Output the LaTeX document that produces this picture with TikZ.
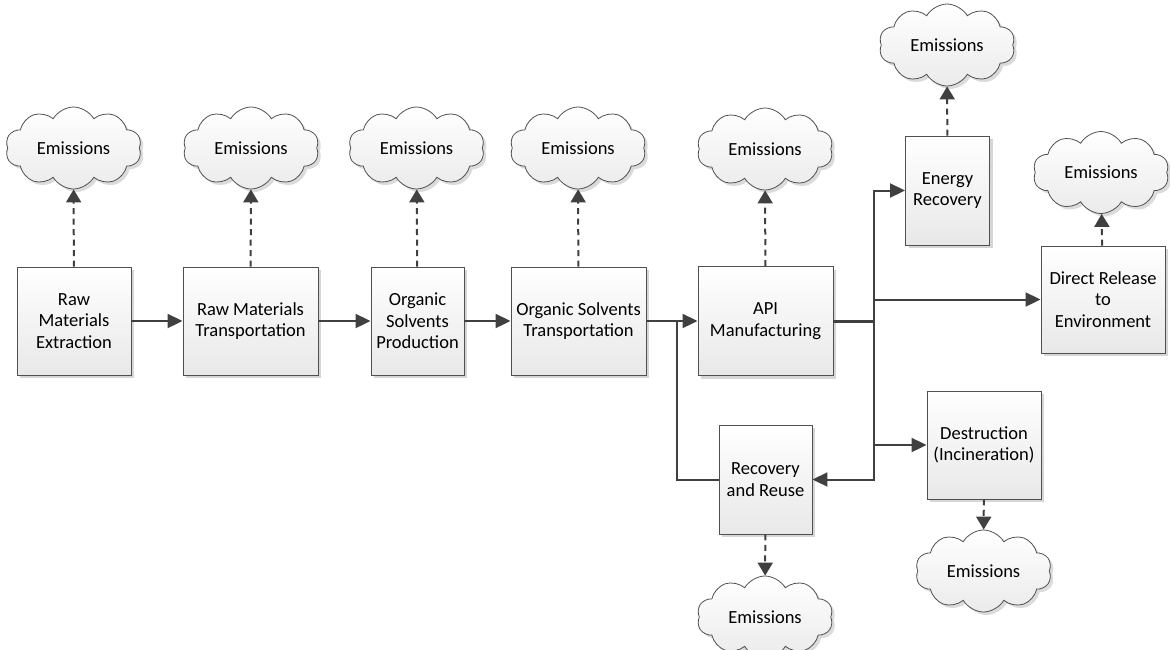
\documentclass[tikz,border=0pt]{standalone}
\usepackage{fontspec}
\setmainfont{Carlito}
\usetikzlibrary{arrows.meta,shapes.symbols,shadows}

\definecolor{ink}{HTML}{404040}
\definecolor{edge}{HTML}{505050}

\tikzset{
  stepbox/.style={draw=edge, line width=0.9pt, top color=white, bottom color=black!9,
    align=center, inner sep=2pt, font=\fontsize{18.5}{21.5}\selectfont,
    drop shadow={shadow xshift=3pt, shadow yshift=-3pt, fill=black!16, opacity=1}},
  emis/.style={cloud, cloud puffs=10, cloud puff arc=120, aspect=1.8,
    draw=edge, line width=0.8pt, top color=white, bottom color=black!8,
    minimum width=136pt, minimum height=82pt, inner sep=0pt,
    font=\fontsize{18.5}{21.5}\selectfont,
    drop shadow={shadow xshift=3pt, shadow yshift=-3pt, fill=black!14, opacity=1}},
  flow/.style={draw=ink, line width=2pt, -{Triangle[length=15pt,width=14pt]}},
  trunk/.style={draw=ink, line width=3pt},
  link/.style={draw=ink, line width=2pt},
  emit/.style={draw=ink, line width=2pt, dash pattern=on 6pt off 4.5pt,
    -{Triangle[length=13pt,width=15pt]}}
}

\begin{document}
\begin{tikzpicture}[x=1pt, y=-1pt]
\useasboundingbox (0,0) rectangle (1170,649);

% process steps
\node[stepbox, minimum width=114pt, minimum height=108pt] (b1) at (74,321) {Raw\\Materials\\Extraction};
\node[stepbox, minimum width=135pt, minimum height=108pt] (b2) at (250.5,321) {Raw Materials\\Transportation};
\node[stepbox, minimum width=93pt, minimum height=108pt] (b3) at (417.5,321) {Organic\\Solvents\\Production};
\node[stepbox, minimum width=135pt, minimum height=108pt] (b4) at (578.5,321) {Organic Solvents\\Transportation};
\node[stepbox, minimum width=135pt, minimum height=109pt] (api) at (765.5,321) {API\\Manufacturing};
\node[stepbox, minimum width=84pt, minimum height=109pt] (ene) at (947.5,190.5) {Energy\\Recovery};
\node[stepbox, minimum width=124pt, minimum height=107pt] (dir) at (1103,299.5) {Direct Release\\to\\Environment};
\node[stepbox, minimum width=114pt, minimum height=108pt] (des) at (984,445) {Destruction\\(Incineration)};
\node[stepbox, minimum width=93pt, minimum height=109pt] (rec) at (765.5,479.5) {Recovery\\and Reuse};

% emission clouds
\node[emis] (c1) at (73.5,148) {Emissions};
\node[emis] (c2) at (251,148) {Emissions};
\node[emis] (c3) at (416.5,148) {Emissions};
\node[emis] (c4) at (578,148) {Emissions};
\node[emis] (c5) at (765,149) {Emissions};
\node[emis] (c6) at (947,45) {Emissions};
\node[emis] (c7) at (1101,172.5) {Emissions};
\node[emis] (c8) at (983.5,571) {Emissions};
\node[emis] (c9) at (765,617) {Emissions};

% junction points
\coordinate (loop) at (677,321);
\coordinate (hub) at (874,321);

% main chain
\draw[flow] (b1) -- (b2);
\draw[flow] (b2) -- (b3);
\draw[flow] (b3) -- (b4);
\draw[flow] (b4) -- (api);
\draw[link] (rec.west) -| (loop);

% distribution from manufacturing
\draw[trunk] (api.east) -- (hub);
\draw[flow] (hub) |- (ene);
\draw[flow] (hub) |- (rec);
\draw[flow] (hub |- dir) -- (dir);
\draw[flow] (hub |- des) -- (des);

% emissions
\draw[emit] (b1) -- (c1);
\draw[emit] (b2) -- (c2);
\draw[emit] (b3) -- (c3);
\draw[emit] (b4) -- (c4);
\draw[emit] (api) -- (c5);
\draw[emit] (ene) -- (c6);
\draw[emit] (dir) -- (c7);
\draw[emit] (des) -- (c8);
\draw[emit] (rec) -- (c9);
\end{tikzpicture}
\end{document}
